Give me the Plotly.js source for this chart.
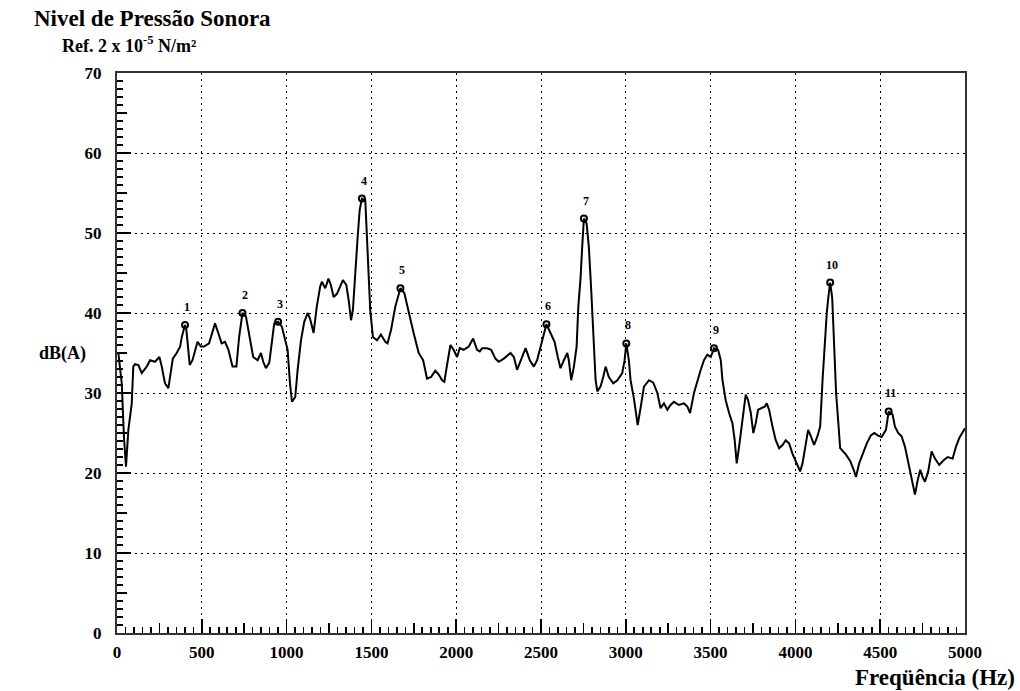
<!DOCTYPE html>
<html>
<head>
<meta charset="utf-8">
<script src="https://cdn.plot.ly/plotly-3.0.1.min.js"></script>
<style>html,body{margin:0;padding:0;background:#fff;}#chart{width:1020px;height:691px;}</style>
</head>
<body>
<div id="chart"></div>
<script>
// Spectrum: frequency (Hz) and sound pressure level dB(A)
const freq = [8,28,41,53,67,87,96,106,126,146,175,195,224,250,264,283,303,313,329,352,372,382,401,409,421,429,445,475,494,513,543,562,578,597,617,637,657,681,704,720,740,760,780,803,829,849,862,878,898,913,927,950,972,992,1006,1020,1032,1051,1065,1085,1104,1124,1138,1150,1159,1178,1198,1208,1228,1247,1261,1277,1297,1332,1352,1366,1380,1391,1405,1419,1431,1444,1464,1474,1483,1493,1509,1533,1556,1582,1595,1616,1641,1671,1694,1720,1749,1779,1805,1828,1852,1877,1897,1917,1930,1946,1966,1985,2005,2021,2044,2074,2100,2123,2139,2153,2182,2206,2231,2251,2281,2320,2340,2359,2379,2409,2434,2458,2477,2497,2521,2532,2556,2580,2599,2615,2635,2655,2664,2678,2694,2710,2720,2733,2743,2753,2769,2782,2796,2808,2822,2832,2851,2867,2881,2900,2926,2950,2979,2993,3003,3018,3028,3048,3070,3090,3107,3137,3162,3186,3205,3225,3245,3264,3284,3313,3343,3363,3379,3402,3422,3442,3461,3481,3501,3520,3544,3560,3570,3589,3609,3629,3642,3654,3668,3682,3694,3707,3721,3737,3752,3766,3780,3800,3819,3831,3845,3865,3884,3904,3924,3943,3963,3983,4008,4028,4042,4057,4075,4091,4110,4130,4146,4160,4173,4185,4195,4205,4217,4229,4240,4252,4264,4298,4323,4347,4357,4376,4396,4421,4445,4465,4485,4508,4534,4550,4573,4587,4606,4626,4646,4662,4681,4705,4721,4736,4750,4764,4783,4803,4823,4848,4874,4898,4927,4947,4967,4987,5000];
const dbA = [35.0,31.2,24.5,20.8,25.4,28.7,33.3,33.6,33.5,32.5,33.3,34.1,33.9,34.5,33.3,31.2,30.6,32.0,34.3,35.0,35.8,37.0,38.5,37.9,35.4,33.5,34.1,36.4,35.8,35.8,36.2,37.5,38.7,37.5,36.2,36.4,35.4,33.3,33.3,37.0,40.0,39.6,37.0,34.5,34.1,35.0,33.9,33.1,33.8,36.6,38.7,38.9,38.3,36.6,35.4,31.2,28.9,29.5,32.9,36.6,38.9,40.0,39.3,38.3,37.5,40.8,43.3,43.9,43.1,44.3,43.5,42.0,42.4,44.1,43.5,41.6,39.1,40.4,45.4,49.5,52.9,54.3,54.1,49.1,43.3,40.4,37.0,36.6,37.3,36.4,36.2,37.9,40.8,43.1,42.5,40.0,37.5,35.0,34.1,31.8,32.0,32.8,32.3,31.6,31.4,33.5,36.0,35.4,34.5,35.6,35.4,35.8,36.8,35.4,35.2,35.6,35.6,35.4,34.3,33.9,34.3,35.0,34.5,32.9,33.9,35.6,34.1,33.3,34.1,35.8,37.9,38.6,37.5,36.4,34.5,33.1,34.1,35.0,34.1,31.6,33.3,35.8,40.8,44.3,48.3,51.8,51.2,48.3,42.9,37.5,31.6,30.2,30.8,32.0,33.3,32.0,31.2,31.6,32.5,34.1,36.2,34.1,31.6,29.3,26.0,28.5,30.8,31.6,31.3,30.0,28.1,28.7,27.9,28.5,28.9,28.5,28.7,28.3,27.5,30.0,31.6,32.9,34.1,34.8,34.5,35.6,35.4,34.1,31.6,29.1,27.5,26.2,24.1,21.2,23.3,25.8,27.9,29.8,29.1,27.5,25.0,26.2,27.9,28.1,28.3,28.7,27.9,25.8,24.1,23.1,23.5,24.1,23.7,22.4,21.2,20.2,21.2,23.3,25.4,24.6,23.5,24.6,25.8,31.6,36.2,40.0,42.1,43.8,41.9,35.0,30.0,26.6,23.1,22.3,21.5,20.2,19.5,21.2,22.4,23.7,24.7,25.0,24.7,24.5,25.4,27.7,27.3,25.8,25.0,24.6,23.3,21.6,19.5,17.3,19.1,20.4,19.5,18.9,20.2,22.7,21.8,21.0,21.6,22.0,21.8,23.3,24.4,25.2,25.6];

// Marked peaks
const peakFreq = [401,740,950,1444,1671,2532,2753,3003,3520,4205,4550];
const peakDb = [38.5,40.0,38.9,54.3,43.1,38.6,51.8,36.2,35.6,43.8,27.7];
const peakLabels = ['1','2','3','4','5','6','7','8','9','10','11'];

// Axis tick values (labelled major ticks)
const xTickVals = [0,500,1000,1500,2000,2500,3000,3500,4000,4500,5000];
const yTickVals = [0,10,20,30,40,50,60,70];

const serif = "'Liberation Serif', 'DejaVu Serif', serif";
const tickFont = {family: serif, size: 17, color: '#000', weight: 'bold'};

const traces = [
  {x: freq, y: dbA, type: 'scatter', mode: 'lines',
   line: {color: '#000', width: 2}, hoverinfo: 'skip', showlegend: false},
  {x: peakFreq, y: peakDb, type: 'scatter', mode: 'markers',
   marker: {symbol: 'circle-open', size: 6, color: '#000', line: {width: 2, color: '#000'}},
   hoverinfo: 'skip', showlegend: false},
  {x: [0], y: [0], xaxis: 'x2', yaxis: 'y2', type: 'scatter', mode: 'markers',
   marker: {size: 1, opacity: 0}, hoverinfo: 'skip', showlegend: false}
];

const annotations = peakLabels.map((t, i) => ({
  x: peakFreq[i], y: peakDb[i], xref: 'x', yref: 'y', text: t, showarrow: false,
  xshift: 2, yshift: 18, font: {family: serif, size: 12, color: '#000', weight: 'bold'}
}));
annotations.push({
  xref: 'paper', yref: 'paper', x: (60 - 117) / 848, y: 1 + (73 - 45) / 560,
  xanchor: 'left', yanchor: 'middle', showarrow: false,
  text: 'Ref. 2 x 10<sup>-5</sup> N/m²', font: {family: serif, size: 18, color: '#000', weight: 'bold'}
});
annotations.push({
  xref: 'paper', yref: 'y', x: (37 - 117) / 848, y: 34.9,
  xanchor: 'left', yanchor: 'middle', showarrow: false,
  text: 'dB(A)', font: {family: serif, size: 18, color: '#000', weight: 'bold'}
});
annotations.push({
  xref: 'paper', yref: 'paper', x: (1017 - 117) / 848, y: (633 - 677) / 560,
  xanchor: 'right', yanchor: 'middle', showarrow: false,
  text: 'Freqüência (Hz)', font: {family: serif, size: 23, color: '#000', weight: 'bold'}
});

const xStep = xTickVals[1] - xTickVals[0];
const yStep = yTickVals[1] - yTickVals[0];
const xRange = [xTickVals[0], xTickVals[xTickVals.length - 1]];
const yRange = [yTickVals[0], yTickVals[yTickVals.length - 1]];

const layout = {
  width: 1020, height: 691,
  margin: {l: 117, r: 55, t: 73, b: 58},
  paper_bgcolor: '#fff', plot_bgcolor: '#fff',
  showlegend: false,
  title: {text: 'Nivel de Pressão Sonora', x: 34 / 1020, xanchor: 'left', xref: 'container',
          y: 1 - 18 / 691, yanchor: 'middle', yref: 'container',
          font: {family: serif, size: 23, color: '#000', weight: 'bold'}},
  xaxis: {range: xRange, tickmode: 'linear', tick0: 0, dtick: xStep, ticks: 'inside', ticklen: 14, tickwidth: 1.6, tickcolor: '#000',
          minor: {tickmode: 'linear', tick0: 0, dtick: xStep / 10, ticks: 'inside', ticklen: 6, tickwidth: 1.6, tickcolor: '#000', showgrid: false},
          showgrid: true, gridcolor: '#000', griddash: '2px,4px', gridwidth: 1,
          showline: true, linecolor: '#333', linewidth: 2, mirror: true, zeroline: false,
          tickfont: tickFont, ticklabelstandoff: 3, fixedrange: true},
  yaxis: {range: yRange, tickmode: 'linear', tick0: 0, dtick: yStep, ticks: 'inside', ticklen: 14, tickwidth: 1.6, tickcolor: '#000',
          minor: {tickmode: 'linear', tick0: 0, dtick: yStep / 10, ticks: 'inside', ticklen: 6, tickwidth: 1.6, tickcolor: '#000', showgrid: false},
          showgrid: true, gridcolor: '#000', griddash: '2px,4px', gridwidth: 1,
          showline: true, linecolor: '#333', linewidth: 2, mirror: true, zeroline: false,
          tickfont: tickFont, ticklabelstandoff: 10, fixedrange: true},
  xaxis2: {overlaying: 'x', anchor: 'y', side: 'bottom', range: xRange, tickmode: 'linear', tick0: 0, dtick: xStep / 2,
           ticks: 'inside', ticklen: 10, tickcolor: '#000', tickwidth: 1.6, showticklabels: false,
           showgrid: false, showline: false, zeroline: false, fixedrange: true},
  yaxis2: {overlaying: 'y', anchor: 'x', side: 'left', range: yRange, tickmode: 'linear', tick0: 0, dtick: yStep / 2,
           ticks: 'inside', ticklen: 10, tickcolor: '#000', tickwidth: 1.6, showticklabels: false,
           showgrid: false, showline: false, zeroline: false, fixedrange: true},
  annotations: annotations
};

Plotly.newPlot('chart', traces, layout, {displayModeBar: false, staticPlot: true});
</script>
</body>
</html>
